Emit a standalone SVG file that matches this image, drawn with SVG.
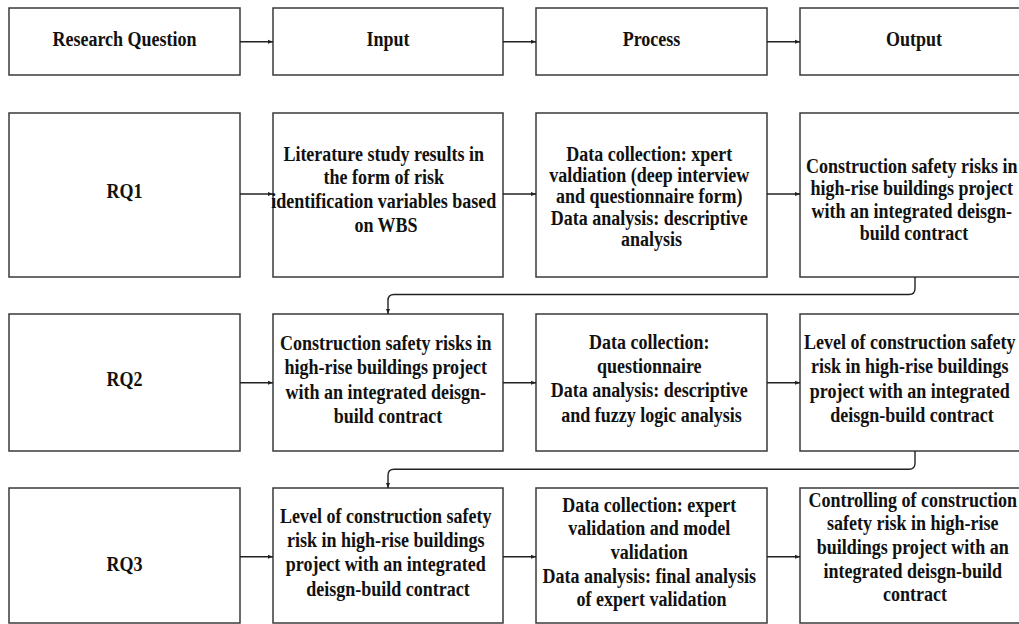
<svg xmlns="http://www.w3.org/2000/svg" width="1019" height="624" viewBox="0 0 1019 624">
  <style>
    .box { fill: #ffffff; stroke: #3a3a3a; stroke-width: 1.5; }
    .lbl { font-family: "Liberation Serif", "Times New Roman", serif; font-weight: bold; font-size: 20px; fill: #111111; text-anchor: middle; }
    .wire { fill: none; stroke: #222222; stroke-width: 1.4; }
  </style>
  <defs>
    <marker id="arrow" viewBox="0 0 10 10" refX="10" refY="5" markerWidth="5" markerHeight="5" orient="auto" markerUnits="userSpaceOnUse">
      <path d="M0,1 L10,5 L0,9 Z" fill="#222222"/>
    </marker>
  </defs>
  <rect width="1019" height="624" fill="#ffffff"/>

  <!-- header row -->
  <g id="hdr-rq">
    <rect class="box" x="9" y="8" width="231" height="67"/>
    <g transform="translate(124.5 0) scale(0.9 1)"><text class="lbl"><tspan x="0" y="46">Research Question</tspan></text></g>
  </g>
  <g id="hdr-input">
    <rect class="box" x="273" y="8" width="230" height="67"/>
    <g transform="translate(388 0) scale(0.9 1)"><text class="lbl"><tspan x="0" y="46">Input</tspan></text></g>
  </g>
  <g id="hdr-process">
    <rect class="box" x="536" y="8" width="231" height="67"/>
    <g transform="translate(651.5 0) scale(0.9 1)"><text class="lbl"><tspan x="0" y="46">Process</tspan></text></g>
  </g>
  <g id="hdr-output">
    <rect class="box" x="800" y="8" width="231" height="67"/>
    <g transform="translate(914 0) scale(0.9 1)"><text class="lbl"><tspan x="0" y="46">Output</tspan></text></g>
  </g>

  <!-- RQ1 row -->
  <g id="rq1">
    <rect class="box" x="9" y="113" width="231" height="164"/>
    <g transform="translate(124.5 0) scale(0.9 1)"><text class="lbl"><tspan x="0" y="198.5">RQ1</tspan></text></g>
  </g>
  <g id="rq1-input">
    <rect class="box" x="273" y="113" width="230" height="164"/>
    <g transform="translate(386 0) scale(0.9 1)"><text class="lbl">
      <tspan x="0" y="160.7">Literature study results in</tspan>
      <tspan x="0" y="184.4">the form of risk</tspan>
      <tspan x="0" y="208.1">identification variables based</tspan>
      <tspan x="0" y="231.8">on WBS</tspan>
    </text></g>
  </g>
  <g id="rq1-process">
    <rect class="box" x="536" y="113" width="231" height="164"/>
    <g transform="translate(651.5 0) scale(0.9 1)"><text class="lbl">
      <tspan x="0" y="160.7">Data collection: xpert</tspan>
      <tspan x="0" y="182">valdiation (deep interview</tspan>
      <tspan x="0" y="203.3">and questionnaire form)</tspan>
      <tspan x="0" y="224.6">Data analysis: descriptive</tspan>
      <tspan x="0" y="245.9">analysis</tspan>
    </text></g>
  </g>
  <g id="rq1-output">
    <rect class="box" x="800" y="113" width="231" height="164"/>
    <g transform="translate(914 0) scale(0.9 1)"><text class="lbl">
      <tspan x="0" y="173">Construction safety risks in</tspan>
      <tspan x="0" y="195.5">high-rise buildings project</tspan>
      <tspan x="0" y="218">with an integrated deisgn-</tspan>
      <tspan x="0" y="240.5">build contract</tspan>
    </text></g>
  </g>

  <!-- RQ2 row -->
  <g id="rq2">
    <rect class="box" x="9" y="314" width="231" height="137"/>
    <g transform="translate(124.5 0) scale(0.9 1)"><text class="lbl"><tspan x="0" y="386">RQ2</tspan></text></g>
  </g>
  <g id="rq2-input">
    <rect class="box" x="273" y="314" width="230" height="137"/>
    <g transform="translate(388 0) scale(0.9 1)"><text class="lbl">
      <tspan x="0" y="350">Construction safety risks in</tspan>
      <tspan x="0" y="374.3">high-rise buildings project</tspan>
      <tspan x="0" y="398.6">with an integrated deisgn-</tspan>
      <tspan x="0" y="422.9">build contract</tspan>
    </text></g>
  </g>
  <g id="rq2-process">
    <rect class="box" x="536" y="314" width="231" height="137"/>
    <g transform="translate(651.5 0) scale(0.9 1)"><text class="lbl">
      <tspan x="0" y="349">Data collection:</tspan>
      <tspan x="0" y="373">questionnaire</tspan>
      <tspan x="0" y="397.5">Data analysis: descriptive</tspan>
      <tspan x="0" y="421.7">and fuzzy logic analysis</tspan>
    </text></g>
  </g>
  <g id="rq2-output">
    <rect class="box" x="800" y="314" width="231" height="137"/>
    <g transform="translate(912 0) scale(0.9 1)"><text class="lbl">
      <tspan x="0" y="349">Level of construction safety</tspan>
      <tspan x="0" y="373.3">risk in high-rise buildings</tspan>
      <tspan x="0" y="397.6">project with an integrated</tspan>
      <tspan x="0" y="421.9">deisgn-build contract</tspan>
    </text></g>
  </g>

  <!-- RQ3 row -->
  <g id="rq3">
    <rect class="box" x="9" y="488" width="231" height="135"/>
    <g transform="translate(124.5 0) scale(0.9 1)"><text class="lbl"><tspan x="0" y="571">RQ3</tspan></text></g>
  </g>
  <g id="rq3-input">
    <rect class="box" x="273" y="488" width="230" height="135"/>
    <g transform="translate(388 0) scale(0.9 1)"><text class="lbl">
      <tspan x="0" y="523.3">Level of construction safety</tspan>
      <tspan x="0" y="547.4">risk in high-rise buildings</tspan>
      <tspan x="0" y="571.5">project with an integrated</tspan>
      <tspan x="0" y="595.6">deisgn-build contract</tspan>
    </text></g>
  </g>
  <g id="rq3-process">
    <rect class="box" x="536" y="488" width="231" height="135"/>
    <g transform="translate(651.5 0) scale(0.9 1)"><text class="lbl">
      <tspan x="0" y="511.7">Data collection: expert</tspan>
      <tspan x="0" y="535.4">validation and model</tspan>
      <tspan x="0" y="559.1">validation</tspan>
      <tspan x="0" y="582.8">Data analysis: final analysis</tspan>
      <tspan x="0" y="606.5">of expert validation</tspan>
    </text></g>
  </g>
  <g id="rq3-output">
    <rect class="box" x="800" y="488" width="231" height="135"/>
    <g transform="translate(915 0) scale(0.9 1)"><text class="lbl">
      <tspan x="0" y="506.7">Controlling of construction</tspan>
      <tspan x="0" y="530.4">safety risk in high-rise</tspan>
      <tspan x="0" y="554.1">buildings project with an</tspan>
      <tspan x="0" y="577.8">integrated deisgn-build</tspan>
      <tspan x="0" y="601.5">contract</tspan>
    </text></g>
  </g>

  <!-- connectors -->
  <g id="connectors">
    <path class="wire" d="M240,41.7 H273" marker-end="url(#arrow)"/>
    <path class="wire" d="M503,41.7 H536" marker-end="url(#arrow)"/>
    <path class="wire" d="M767,41.7 H800" marker-end="url(#arrow)"/>

    <path class="wire" d="M240,194 H273" marker-end="url(#arrow)"/>
    <path class="wire" d="M503,194 H536" marker-end="url(#arrow)"/>
    <path class="wire" d="M767,194 H800" marker-end="url(#arrow)"/>

    <path class="wire" d="M240,382.7 H273" marker-end="url(#arrow)"/>
    <path class="wire" d="M503,382.7 H536" marker-end="url(#arrow)"/>
    <path class="wire" d="M767,382.7 H800" marker-end="url(#arrow)"/>

    <path class="wire" d="M240,556.7 H273" marker-end="url(#arrow)"/>
    <path class="wire" d="M503,556.7 H536" marker-end="url(#arrow)"/>
    <path class="wire" d="M767,556.7 H800" marker-end="url(#arrow)"/>

    <path class="wire" d="M915,277 V288.5 Q915,294.5 909,294.5 H394 Q388,294.5 388,300.5 V314" marker-end="url(#arrow)"/>
    <path class="wire" d="M915,451 V463.3 Q915,469.3 909,469.3 H394 Q388,469.3 388,475.3 V488" marker-end="url(#arrow)"/>
  </g>
</svg>
